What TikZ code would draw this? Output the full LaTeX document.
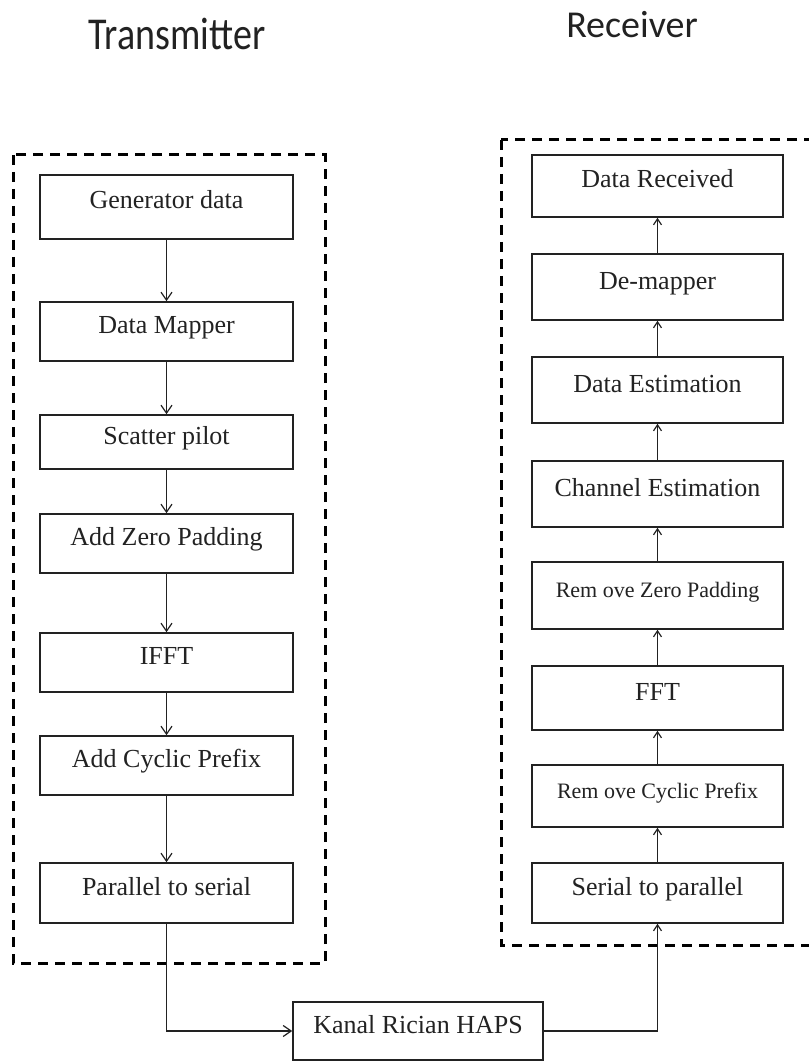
\documentclass[tikz,border=0pt]{standalone}
\usepackage{fontspec}
\setmainfont{Liberation Serif}
\newfontfamily\titlefont{Carlito}
\usetikzlibrary{arrows.meta}
\definecolor{ink}{HTML}{222222}
\begin{document}
\begin{tikzpicture}[x=1pt,y=-1pt,
  blk/.style={draw=ink,line width=1.6pt,rectangle,inner sep=0pt,
    minimum width=#1, text height=20pt,text depth=16pt,text=ink,
    font=\fontsize{26}{30}\selectfont},
  blk/.default=253pt,
  small/.style={font=\fontsize{22}{26}\selectfont},
  conn/.style={draw=ink,line width=1.3pt,-{Straight Barb[length=8pt,width=11pt,line width=1.2pt]}},
  connr/.style={draw=ink,line width=1.3pt,-{Straight Barb[length=6pt,width=8pt,line width=1.2pt]}},
  frame/.style={draw=black,line width=3pt,dash pattern=on 10pt off 7pt},
  ttl/.style={anchor=base,text=ink,font=\titlefont\fontsize{38}{44}\selectfont}]
\useasboundingbox (0,0) rectangle (808,1064);
\fill[white] (0,0) rectangle (808,1064);

% titles
\node[ttl] (ttx) at (177,50) {\scalebox{1}[1.2]{Transmitter}};
\node[ttl] (trx) at (632,38) {Receiver};

% dashed frames
\draw[frame] (13,155) rectangle (325,963);
\draw[frame] (501,140) rectangle (830,945);

% transmitter chain
\node[blk,minimum height=64pt] (t1) at (166.5,207) {Generator data};
\node[blk,minimum height=59pt] (t2) at (166.5,331.5) {Data Mapper};
\node[blk,minimum height=54pt] (t3) at (166.5,442) {Scatter pilot};
\node[blk,minimum height=59pt] (t4) at (166.5,543.5) {Add Zero Padding};
\node[blk,minimum height=59pt] (t5) at (166.5,662.5) {IFFT};
\node[blk,minimum height=59pt] (t6) at (166.5,765.5) {Add Cyclic Prefix};
\node[blk,minimum height=60pt] (t7) at (166.5,893) {Parallel to serial};

% receiver chain
\node[blk=251pt,minimum height=62pt] (r1) at (657.5,186) {Data Received};
\node[blk=251pt,minimum height=66pt] (r2) at (657.5,287) {De-mapper};
\node[blk=251pt,minimum height=66pt] (r3) at (657.5,390) {Data Estimation};
\node[blk=251pt,minimum height=66pt] (r4) at (657.5,494) {Channel Estimation};
\node[blk=251pt,minimum height=67pt,small] (r5) at (657.5,595.5) {Rem ove Zero Padding};
\node[blk=251pt,minimum height=64pt] (r6) at (657.5,698) {FFT};
\node[blk=251pt,minimum height=62pt,small] (r7) at (657.5,796) {Rem ove Cyclic Prefix};
\node[blk=251pt,minimum height=60pt] (r8) at (657.5,893) {Serial to parallel};

% channel
\node[blk=250pt,minimum height=58pt] (ch) at (418,1031) {Kanal Rician HAPS};

% connectors
\draw[conn] (t1) -- (t2);
\draw[conn] (t2) -- (t3);
\draw[conn] (t3) -- (t4);
\draw[conn] (t4) -- (t5);
\draw[conn] (t5) -- (t6);
\draw[conn] (t6) -- (t7);
\draw[conn] (t7.south) |- (ch.west);
\draw[connr] (ch.east) -| (r8.south);
\draw[connr] (r8) -- (r7);
\draw[connr] (r7) -- (r6);
\draw[connr] (r6) -- (r5);
\draw[connr] (r5) -- (r4);
\draw[connr] (r4) -- (r3);
\draw[connr] (r3) -- (r2);
\draw[connr] (r2) -- (r1);
\end{tikzpicture}
\end{document}
